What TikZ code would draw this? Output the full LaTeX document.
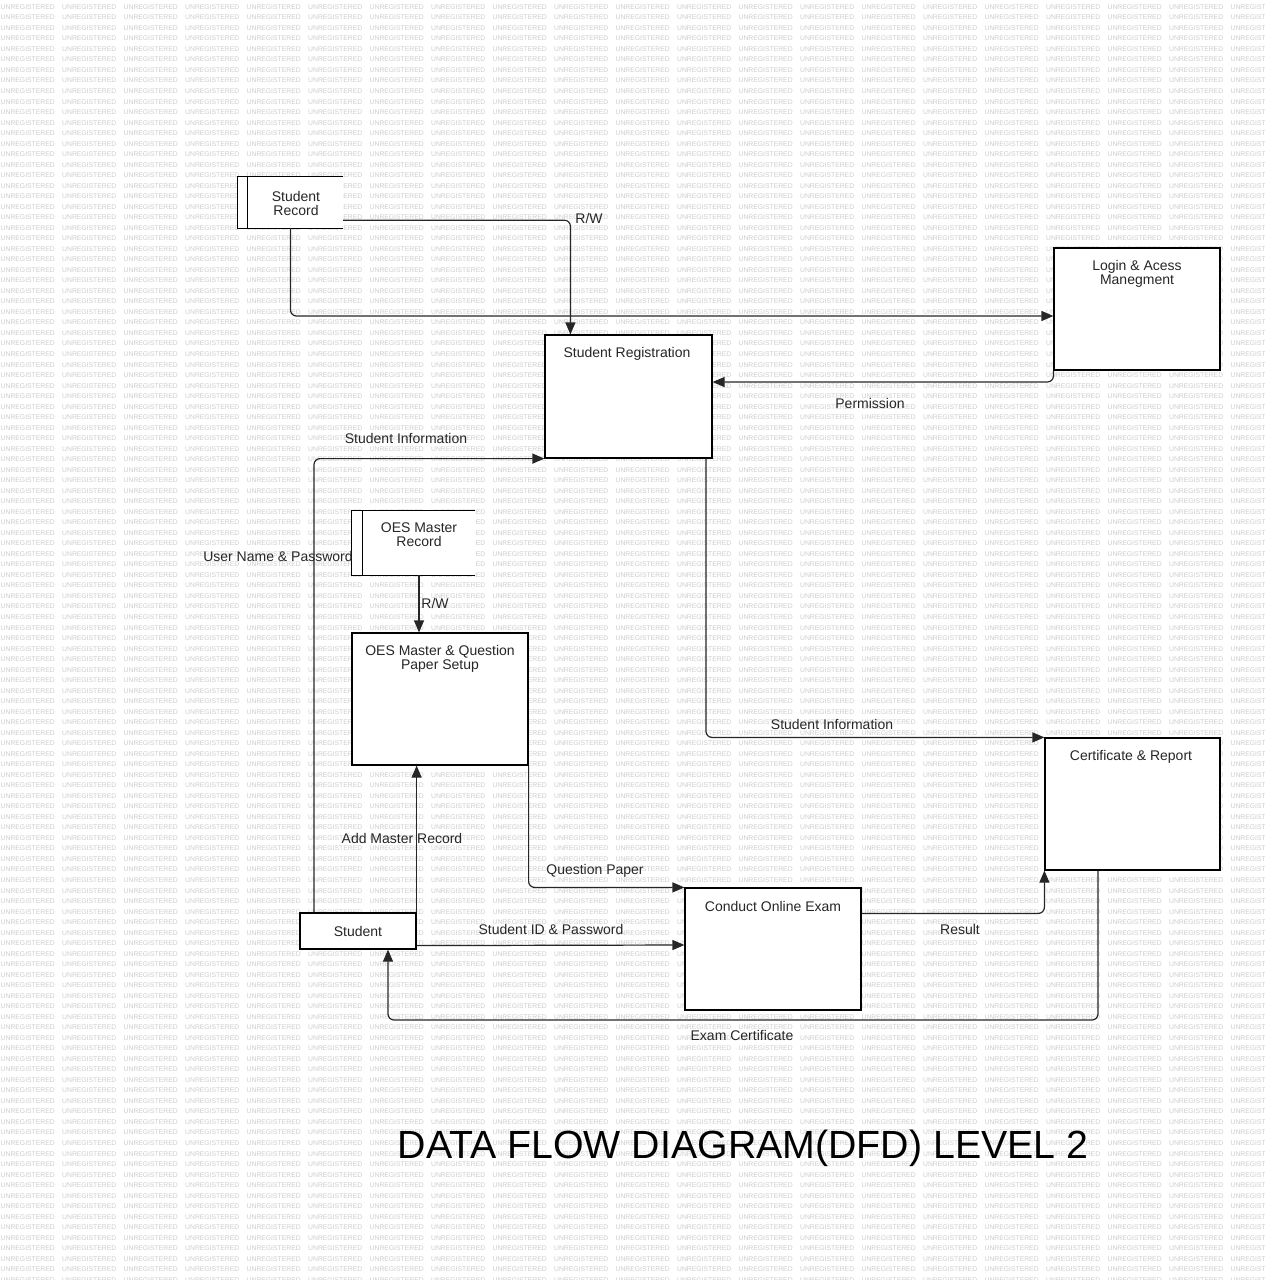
\documentclass[tikz,border=0pt]{standalone}
\usepackage{fontspec}
\setmainfont{Liberation Sans}
\usetikzlibrary{arrows.meta,calc}
\newcommand\wmword{\makebox[61.5pt][l]{UNREGISTERED}}
\newcommand\wmrow{\wmword\wmword\wmword\wmword\wmword\wmword\wmword\wmword\wmword\wmword\wmword\wmword\wmword\wmword\wmword\wmword\wmword\wmword\wmword\wmword\wmword}
\begin{document}
\begin{tikzpicture}[x=1pt,y=-1pt,
  wm/.style={anchor=west,inner sep=0pt,text=black!20,font=\fontsize{6.8}{6.8}\selectfont},
  proc/.style={draw=black,fill=white,line width=1.2pt,inner sep=0pt},
  storefill/.style={fill=white,draw=none,inner sep=0pt},
  boxline/.style={draw=black,line width=1.2pt},
  txt/.style={inner sep=0pt,align=center,text=black!85,font=\fontsize{14}{14}\selectfont},
  flow/.style={draw=black!85,line width=1.2pt,rounded corners=6pt,-{Triangle[length=12pt,width=10pt]}},
  flowlab/.style={inner sep=0pt,text=black!85,font=\fontsize{14}{14}\selectfont},
  title/.style={inner sep=0pt,text=black,font=\fontsize{39.3}{39.3}\selectfont}]
\useasboundingbox (0,0) rectangle (1264,1280);
\begin{scope}
\clip (0,0) rectangle (1264,1280);
\foreach \i in {0,...,121} {
  \node[wm] (wm\i) at (0.5,{7+\i*10.52}) {\wmrow};
}
\end{scope}

% data stores
\node[storefill,minimum width=105pt,minimum height=51pt] (srec) at (290.5,202.5) {};
\draw[boxline] (srec.north east) -- (srec.north west) -- (srec.south west) -- (srec.south east);
\draw[boxline] ([xshift=10pt]srec.north west) -- ([xshift=10pt]srec.south west);
\node[txt] (srecT) at (296,203) {Student\\Record};

\node[storefill,minimum width=123pt,minimum height=64pt] (omr) at (413.5,543) {};
\draw[boxline] (omr.north east) -- (omr.north west) -- (omr.south west) -- (omr.south east);
\draw[boxline] ([xshift=11pt]omr.north west) -- ([xshift=11pt]omr.south west);
\node[txt] (omrT) at (419,535) {OES Master\\Record};

% processes
\node[proc,minimum width=167pt,minimum height=123pt] (reg) at (628.5,396.5) {};
\node[txt] (regT) at (627,354) {Student Registration};
\node[proc,minimum width=166pt,minimum height=122pt] (login) at (1137,309) {};
\node[txt] (loginT) at (1137,273.5) {Login \& Acess\\Manegment};
\node[proc,minimum width=176pt,minimum height=132pt] (oes) at (440,699) {};
\node[txt] (oesT) at (440,659) {OES Master \& Question\\Paper Setup};
\node[proc,minimum width=175pt,minimum height=132pt] (cert) at (1132.5,804) {};
\node[txt] (certT) at (1131,757) {Certificate \& Report};
\node[proc,minimum width=176pt,minimum height=122pt] (exam) at (773,949) {};
\node[txt] (examT) at (773,906) {Conduct Online Exam};
\node[proc,minimum width=116pt,minimum height=36pt,txt,draw=black,fill=white,line width=1.2pt] (stu) at (358,931) {Student};

% flows
\coordinate (omrA) at ($(omr.south)+(5.5,0)$);
\draw[flow] ($(srec.south east)+(0,-8)$) -| ([xshift=26pt]reg.north west);
\draw[flow] (srec.south) |- ($(login.west)+(0,7)$);
\draw[flow] (login.south west) |- (reg.east |- 0,382);
\draw[flow] (stu.north -| 314,0) |- (reg.south west);
\draw[flow] (omrA) -- (omrA |- oes.north);
\draw[flow] (stu.north east) -- (oes.south -| stu.north east);
\draw[flow] (oes.south east) |- (exam.north west);
\draw[flow] ($(stu.south east)+(0,-4)$) -- (exam.west |- 0,945);
\draw[flow] ($(exam.north east)+(0,26)$) -| (cert.south west);
\draw[flow] (reg.south -| 706,0) |- (cert.north west);
\coordinate (ec) at (388,1020);
\draw[flow] (cert.south -| 1098,0) |- (ec) -- (stu.south -| ec);

% labels
\node[flowlab] (l1) at (589,218) {R/W};
\node[flowlab] (l2) at (870,403) {Permission};
\node[flowlab] (l3) at (406,438) {Student Information};
\node[flowlab] (l4) at (278,556) {User Name \& Password};
\node[flowlab] (l5) at (435,603) {R/W};
\node[flowlab] (l6) at (402,838) {Add Master Record};
\node[flowlab] (l7) at (595,871) {Question Paper};
\node[flowlab] (l8) at (551,929) {Student ID \& Password};
\node[flowlab] (l9) at (832,724) {Student Information};
\node[flowlab] (l10) at (960,929) {Result};
\node[flowlab] (l11) at (742,1035) {Exam Certificate};
\node[title] (ttl) at (743,1148) {DATA FLOW DIAGRAM(DFD) LEVEL 2};
\end{tikzpicture}
\end{document}
